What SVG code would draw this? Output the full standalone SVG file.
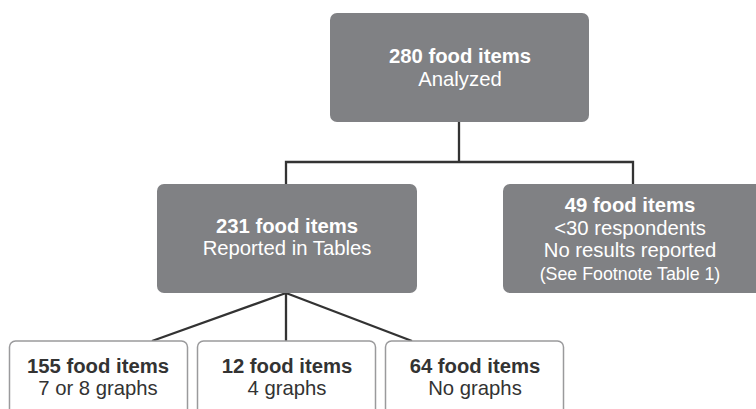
<svg xmlns="http://www.w3.org/2000/svg" width="756" height="409" viewBox="0 0 756 409">
<style>
.g{fill:#808184}
.w{fill:#fff;stroke:#9a9a9c;stroke-width:1.5}
text{font-family:"Liberation Sans",Arial,sans-serif;font-size:20.3px;text-anchor:middle}
.lt{fill:#fff}
.dk{fill:#333}
.b{font-weight:bold}
.s{font-size:17.8px}
.c{fill:none;stroke:#333;stroke-width:2.3}
</style>
<rect width="756" height="409" fill="#fff"/>
<g id="connectors">
<path class="c" d="M459 121V162M286 184V162H633V184"/>
<path class="c" d="M286 293L152 341M286 293V341M286 293L412 341"/>
</g>
<g id="n280">
<rect class="g" x="330" y="13" width="259" height="109" rx="7"/>
<text class="lt b" x="460" y="63">280 food items</text>
<text class="lt" x="460" y="86">Analyzed</text>
</g>
<g id="n231">
<rect class="g" x="157" y="184" width="260" height="109" rx="7"/>
<text class="lt b" x="287" y="233">231 food items</text>
<text class="lt" x="287" y="255">Reported in Tables</text>
</g>
<g id="n49">
<rect class="g" x="503" y="184" width="265" height="109" rx="7"/>
<text class="lt b" x="630" y="212">49 food items</text>
<text class="lt" x="630" y="235">&lt;30 respondents</text>
<text class="lt" x="630" y="257">No results reported</text>
<text class="lt s" x="630" y="280">(See Footnote Table 1)</text>
</g>
<g id="n155">
<rect class="w" x="9.5" y="341" width="178" height="80" rx="6"/>
<text class="dk b" x="98" y="373">155 food items</text>
<text class="dk" x="98" y="395">7 or 8 graphs</text>
</g>
<g id="n12">
<rect class="w" x="197.5" y="341" width="178" height="80" rx="6"/>
<text class="dk b" x="287" y="373">12 food items</text>
<text class="dk" x="287" y="395">4 graphs</text>
</g>
<g id="n64">
<rect class="w" x="385.5" y="341" width="178" height="80" rx="6"/>
<text class="dk b" x="475" y="373">64 food items</text>
<text class="dk" x="475" y="395">No graphs</text>
</g>
</svg>
